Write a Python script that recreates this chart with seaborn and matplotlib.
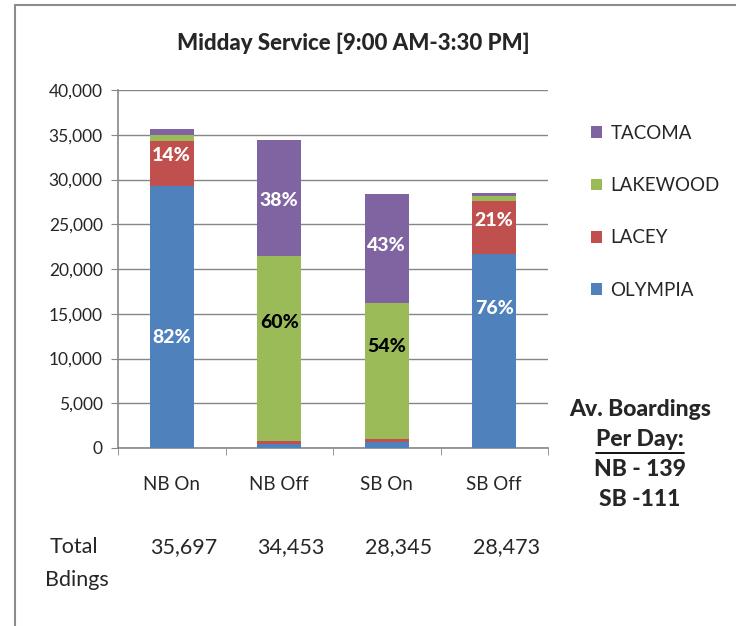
import matplotlib
matplotlib.use("Agg")
import matplotlib.pyplot as plt
import matplotlib.transforms as mtransforms
from matplotlib.patches import Patch
from matplotlib.lines import Line2D
import seaborn as sns
import pandas as pd
import numpy as np

# ------------------------------------------------------
# data
# ------------------------------------------------------
categories = ["NB On", "NB Off", "SB On", "SB Off"]
olympia = [29271, 500, 700, 21640]
lacey = [4998, 250, 250, 5979]
lakewood = [700, 20672, 15306, 500]
tacoma = [728, 13031, 12089, 354]
totals = ["35,697", "34,453", "28,345", "28,473"]

series_names = ["OLYMPIA", "LACEY", "LAKEWOOD", "TACOMA"]
colors = ["#4F81BD", "#C0504D", "#9BBB59", "#8064A2"]

# percentage labels: (category index, y in data units, text, colour)
pct_cat = [0, 0, 1, 1, 2, 2, 3, 3]
pct_y = [12400, 32630, 27600, 13970, 22570, 11290, 25470, 15640]
pct_text = ["82%", "14%", "38%", "60%", "43%", "54%", "21%", "76%"]
pct_color = ["white", "white", "white", "black", "white", "black", "white", "white"]

# ------------------------------------------------------
# plot
# ------------------------------------------------------
sns.set_style("white")
plt.rcParams["font.family"] = ["Lato", "DejaVu Sans"]
plt.rcParams["font.size"] = 12
BOLD = "black"

df = pd.DataFrame({"cat": categories, "OLYMPIA": olympia, "LACEY": lacey,
                   "LAKEWOOD": lakewood, "TACOMA": tacoma})
cum = df[series_names].cumsum(axis=1)

fig = plt.figure(figsize=(7.36, 6.26), dpi=100)
ax = fig.add_axes([118 / 736, 1 - 448 / 626, 430 / 736, 358 / 626])

# draw cumulative bars from top series down so they overlap as a stack
for name, col in reversed(list(zip(series_names, colors))):
    sns.barplot(x=df["cat"], y=cum[name], color=col, width=0.41,
                saturation=1, ax=ax, zorder=3, order=categories,
                linewidth=0, edgecolor="none")

ax.set_ylim(0, 40000)
ax.set_xlim(-0.5, 3.5)
ax.set_yticks(np.arange(0, 40001, 5000))
ax.set_yticklabels([f"{v:,}" for v in range(0, 40001, 5000)])
ax.set_xlabel("")
ax.set_ylabel("")
ax.yaxis.grid(True, color="#868686", lw=1, zorder=0)
ax.set_axisbelow(True)
for s in ["top", "right"]:
    ax.spines[s].set_visible(False)
for s in ["left", "bottom"]:
    ax.spines[s].set_color("#868686")
    ax.spines[s].set_linewidth(1.2)
ax.tick_params(axis="y", which="major", left=True, length=5, color="#868686",
               pad=6, labelsize=12.5)
ax.tick_params(axis="x", which="major", length=0, pad=20, labelsize=13.5)
ax.set_xticks(np.arange(-0.5, 4, 1), minor=True)
ax.tick_params(axis="x", which="minor", bottom=True, length=5, color="#868686")

for c, y, t, col in zip(pct_cat, pct_y, pct_text, pct_color):
    ax.text(c, y, t, ha="center", va="center", color=col,
            fontsize=14, fontweight=BOLD, zorder=5)

fig.text(353 / 736, 1 - 43 / 626, "Midday Service [9:00 AM-3:30 PM]",
         ha="center", va="center", fontsize=16, fontweight=BOLD)

# legend
handles = [Patch(facecolor=c, edgecolor="none") for c in colors]
leg = fig.legend(handles[::-1], series_names[::-1], loc="upper left",
                 bbox_to_anchor=(574 / 736, 1 - 108 / 626), frameon=False,
                 handlelength=0.6, handleheight=0.6, handletextpad=0.45,
                 labelspacing=1.88, fontsize=13.5)

# side note
note_x = 640 / 736
fig.text(note_x, 1 - 409 / 626, "Av. Boardings", ha="center", va="center",
         fontsize=16.5, fontweight=BOLD)
fig.text(note_x, 1 - 440 / 626, "Per Day:", ha="center", va="center",
         fontsize=16.5, fontweight=BOLD)
fig.add_artist(Line2D([596 / 736, 684 / 736], [1 - 453 / 626, 1 - 453 / 626],
                      color="black", lw=1.3))
fig.text(note_x, 1 - 470 / 626, "NB - 139", ha="center", va="center",
         fontsize=16.5, fontweight=BOLD)
fig.text(note_x, 1 - 499 / 626, "SB -111", ha="center", va="center",
         fontsize=16.5, fontweight=BOLD)

# totals row
fig.text(50 / 736, 1 - 547 / 626, "Total", ha="left", va="center", fontsize=15.5)
fig.text(45 / 736, 1 - 580 / 626, "Bdings", ha="left", va="center", fontsize=15.5)
trans = mtransforms.blended_transform_factory(ax.transData, fig.transFigure)
for i, t in enumerate(totals):
    ax.text(i + 0.11, 1 - 547 / 626, t, transform=trans, ha="center",
            va="center", fontsize=15.5, clip_on=False)

# outer frame (left and top edges visible)
fig.add_artist(Line2D([15 / 736, 15 / 736], [0, 1 - 5 / 626], color="#8c8c8c", lw=1.5))
fig.add_artist(Line2D([15 / 736, 1], [1 - 5 / 626, 1 - 5 / 626], color="#8c8c8c", lw=1.5))

fig.savefig("out.png", dpi=100)
